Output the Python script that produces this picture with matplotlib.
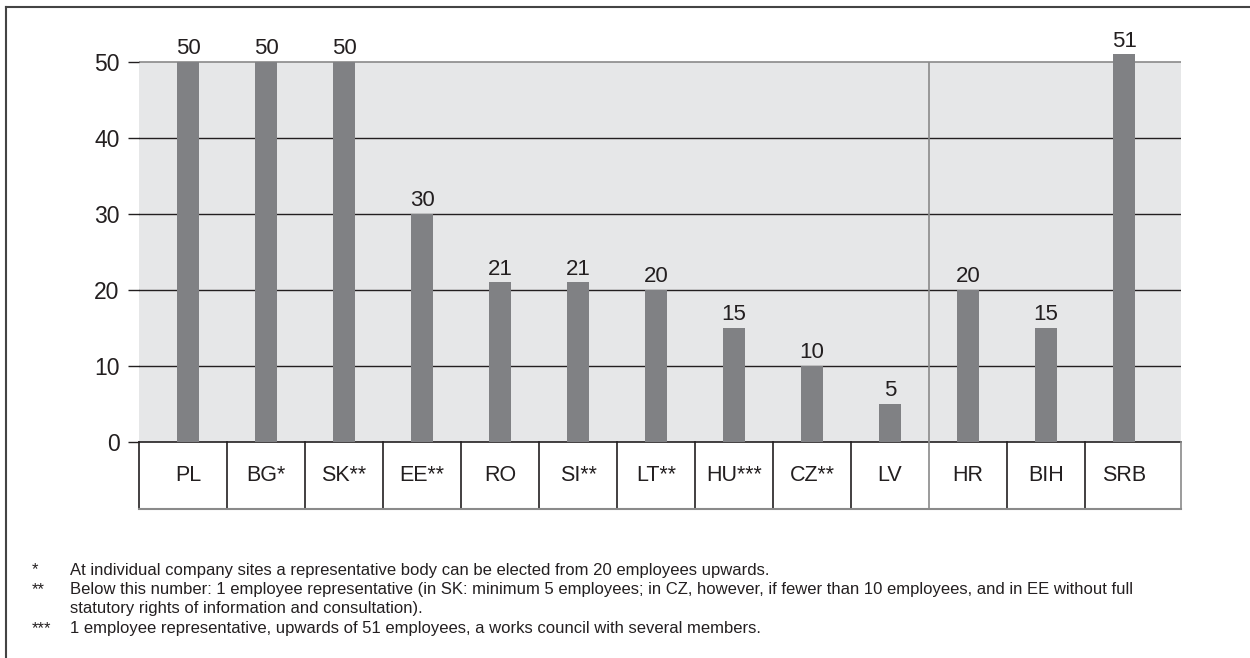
import numpy as np
import matplotlib.pyplot as plt
from matplotlib.lines import Line2D

countries = ["PL", "BG*", "SK**", "EE**", "RO", "SI**", "LT**", "HU***", "CZ**", "LV", "HR", "BIH", "SRB"]
thresholds = [50, 50, 50, 30, 21, 21, 20, 15, 10, 5, 20, 15, 51]
y_ticks = [0, 10, 20, 30, 40, 50]
eu_count = 10  # members before the separator line

notes = [
    ("*", "At individual company sites a representative body can be elected from 20 employees upwards."),
    ("**", "Below this number: 1 employee representative (in SK: minimum 5 employees; in CZ, however, if fewer than 10 employees, and in EE without full"),
    ("", "statutory rights of information and consultation)."),
    ("***", "1 employee representative, upwards of 51 employees, a works council with several members."),
]

BAR = "#808184"
BG = "#e6e7e8"
INK = "#231f20"
SEP = "#8a8a8a"

plt.rcParams["font.family"] = ["Liberation Sans", "DejaVu Sans"]

W, H = 1250, 658
fig = plt.figure(figsize=(W / 100, H / 100), dpi=100)


def px(x0, y0, x1, y1):
    # pixel box (top-left origin) -> figure fraction rect
    return [x0 / W, 1 - y1 / H, (x1 - x0) / W, (y1 - y0) / H]


x = np.arange(len(countries))
xlim = (-0.63, len(countries) - 1 + 0.73)
ymax = 56
ax = fig.add_axes(px(139, 442 - ymax * 7.6, 1181, 442))
ax.set_xlim(*xlim)
ax.set_ylim(0, ymax)

ax.axhspan(0, 50, color=BG, zorder=0, lw=0)
for v in y_ticks[1:-1]:
    ax.axhline(v, color=INK, lw=1, zorder=1)
ax.axhline(50, color=SEP, lw=1.2, zorder=1)
ax.axhline(0, color=INK, lw=1.2, zorder=1, clip_on=False)
ax.vlines(eu_count - 0.5, 0, 50, color=SEP, lw=1.2, zorder=1)

ax.bar(x, thresholds, width=0.28, color=BAR, zorder=2)
for xi, v in zip(x, thresholds):
    ax.annotate(str(v), (xi, v), xytext=(0, 2), textcoords="offset points",
                ha="center", va="bottom", fontsize=16, color=INK)

for s in ax.spines.values():
    s.set_visible(False)
ax.set_xticks([])
ax.set_yticks(y_ticks)
ax.set_yticklabels([str(v) for v in y_ticks], fontsize=16.5, color=INK)
ax.tick_params(axis="y", length=8, width=1, color=INK, pad=6)

# category table under the bars
tab = fig.add_axes(px(139, 442, 1181, 509))
tab.set_xlim(*xlim)
tab.set_ylim(0, 1)
tab.axis("off")
edges = np.concatenate(([xlim[0]], x[:-1] + 0.5, [xlim[1]]))
for i, e in enumerate(edges):
    c = SEP if i in (eu_count, len(edges) - 1) else INK
    tab.plot([e, e], [0, 1], color=c, lw=1.2, clip_on=False)
tab.plot([xlim[0], xlim[1]], [0, 0], color=SEP, lw=1.5, clip_on=False)
for xi, name in zip(x, countries):
    tab.text(xi, 0.5, name, ha="center", va="center", fontsize=15.5, color=INK)

# footnotes
for i, (mark, text) in enumerate(notes):
    yy = 1 - (570 + i * 19.5) / H
    fig.text(32 / W, yy, mark, ha="left", va="center", fontsize=12, color=INK)
    fig.text(70 / W, yy, text, ha="left", va="center", fontsize=12, color=INK)

# outer frame (left and top edges)
fig.add_artist(Line2D([6 / W, 6 / W], [0, 1 - 7 / H], color="#444444", lw=1.5))
fig.add_artist(Line2D([6 / W, 1], [1 - 7 / H, 1 - 7 / H], color="#444444", lw=1.5))

fig.savefig("out.png", dpi=100, facecolor="white")
